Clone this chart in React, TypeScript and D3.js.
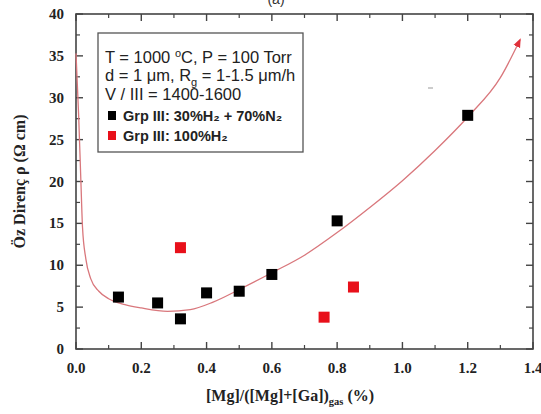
import React from 'react';
import * as d3 from 'd3';

const xTicks = [0, 0.2, 0.4, 0.6, 0.8, 1.0, 1.2, 1.4];
const xMinor = [0.1, 0.3, 0.5, 0.7, 0.9, 1.1, 1.3];
const yTicks = [0, 5, 10, 15, 20, 25, 30, 35, 40];
const yMinor = [2.5, 7.5, 12.5, 17.5, 22.5, 27.5, 32.5, 37.5];

const blackX = [0.13, 0.25, 0.32, 0.40, 0.50, 0.60, 0.80, 1.20];
const blackY = [6.2, 5.5, 3.6, 6.7, 6.9, 8.9, 15.3, 27.9];
const redX = [0.32, 0.76, 0.85];
const redY = [12.1, 3.8, 7.4];

const fitX = [0.0, 0.008, 0.015, 0.02, 0.03, 0.045, 0.07, 0.1, 0.15, 0.2, 0.28, 0.35, 0.42, 0.5, 0.6, 0.7, 0.8, 0.9, 1.0, 1.1, 1.2, 1.3, 1.36];
const fitY = [35.3, 28, 20, 14.5, 10.8, 8.4, 6.9, 6.0, 5.3, 4.9, 4.5, 4.7, 5.6, 7.1, 9.1, 11.2, 13.9, 16.9, 20.1, 23.7, 27.7, 32.4, 36.9];

const legendLines = ['T = 1000 °C, P = 100 Torr', 'd = 1 μm, Rg = 1-1.5 μm/h', 'V / III = 1400-1600'];
const seriesLabels = ['Grp III: 30%H₂ + 70%N₂', 'Grp III: 100%H₂'];
const xTitle = '[Mg]/([Mg]+[Ga])';
const yTitle = 'Öz Direnç ρ (Ω cm)';

export default function App() {
  const W = 541, H = 414;
  const x = d3.scaleLinear().domain([0, 1.4]).range([76, 533]);
  const y = d3.scaleLinear().domain([0, 40]).range([349, 14]);
  const axisColor = '#444';
  const line = d3.line<number>().x((_, i) => x(fitX[i])).y((d) => y(d)).curve(d3.curveMonotoneX);
  const fitPath = line(fitY) || '';
  const serif = '"Liberation Serif", "Times New Roman", serif';
  const sans = '"Liberation Sans", Arial, sans-serif';
  const sq = 11;
  return (
    <div style={{ position: 'absolute', left: 0, top: 0 }}>
      <svg width={W} height={H} style={{ display: 'block', background: '#fff' }}>
        <defs>
          <marker id="arr" viewBox="0 0 10 10" refX="8" refY="5" markerWidth="7" markerHeight="7" orient="auto">
            <path d="M0,1 L10,5 L0,9 Z" fill="#e0303a" />
          </marker>
        </defs>
        <text x={276} y={4} textAnchor="middle" fontFamily={sans} fontSize={14} fill="#333">(a)</text>
        {/* frame */}
        <rect x={x(0)} y={y(40)} width={x(1.4) - x(0)} height={y(0) - y(40)} fill="none" stroke={axisColor} strokeWidth={1.6} />
        {xTicks.map((t) => (
          <g key={'xt' + t}>
            <line x1={x(t)} x2={x(t)} y1={y(0)} y2={y(0) - 7} stroke={axisColor} strokeWidth={1.4} />
            <line x1={x(t)} x2={x(t)} y1={y(40)} y2={y(40) + 7} stroke={axisColor} strokeWidth={1.4} />
            <text x={x(t)} y={373} textAnchor="middle" fontFamily={serif} fontWeight="bold" fontSize={15} fill="#222">{t.toFixed(1)}</text>
          </g>
        ))}
        {xMinor.map((t) => (
          <g key={'xm' + t}>
            <line x1={x(t)} x2={x(t)} y1={y(0)} y2={y(0) - 4} stroke={axisColor} strokeWidth={1.2} />
            <line x1={x(t)} x2={x(t)} y1={y(40)} y2={y(40) + 4} stroke={axisColor} strokeWidth={1.2} />
          </g>
        ))}
        {yTicks.map((t) => (
          <g key={'yt' + t}>
            <line x1={x(0)} x2={x(0) + 7} y1={y(t)} y2={y(t)} stroke={axisColor} strokeWidth={1.4} />
            <line x1={x(1.4)} x2={x(1.4) - 7} y1={y(t)} y2={y(t)} stroke={axisColor} strokeWidth={1.4} />
            <text x={64} y={y(t) + 5} textAnchor="end" fontFamily={serif} fontWeight="bold" fontSize={15} fill="#222">{t}</text>
          </g>
        ))}
        {yMinor.map((t) => (
          <g key={'ym' + t}>
            <line x1={x(0)} x2={x(0) + 4} y1={y(t)} y2={y(t)} stroke={axisColor} strokeWidth={1.2} />
            <line x1={x(1.4)} x2={x(1.4) - 4} y1={y(t)} y2={y(t)} stroke={axisColor} strokeWidth={1.2} />
          </g>
        ))}
        <path d={fitPath} fill="none" stroke="#d9777c" strokeWidth={1.3} markerEnd="url(#arr)" />
        {blackX.map((v, i) => (
          <rect key={'b' + i} x={x(v) - sq / 2} y={y(blackY[i]) - sq / 2} width={sq} height={sq} fill="#000" />
        ))}
        {redX.map((v, i) => (
          <rect key={'r' + i} x={x(v) - sq / 2} y={y(redY[i]) - sq / 2} width={sq} height={sq} fill="#e8101a" />
        ))}
        <line x1={428} x2={433} y1={88} y2={88} stroke="#999" strokeWidth={1} />
        {/* legend */}
        <rect x={98} y={33} width={205} height={119} fill="#fff" stroke="#555" strokeWidth={1.3} />
        <text x={105} y={63} fontFamily={sans} fontSize={16.5} fill="#222">
          T = 1000 <tspan dy={-6} fontSize={11}>o</tspan><tspan dy={6}>C, P = 100 Torr</tspan>
        </text>
        <text x={105} y={81} fontFamily={sans} fontSize={16.5} fill="#222">
          d = 1 μm, R<tspan dy={5} fontSize={11}>g</tspan><tspan dy={-5}> = 1-1.5 μm/h</tspan>
        </text>
        <text x={105} y={100} fontFamily={sans} fontSize={16.5} fill="#222">{legendLines[2]}</text>
        <rect x={108} y={111} width={8} height={9} fill="#000" />
        <text x={123} y={121} fontFamily={sans} fontSize={14.5} fontWeight="bold" fill="#222">{seriesLabels[0]}</text>
        <rect x={108} y={131} width={8} height={9} fill="#e8101a" />
        <text x={123} y={141} fontFamily={sans} fontSize={14.5} fontWeight="bold" fill="#222">{seriesLabels[1]}</text>
        <text x={290} y={401} textAnchor="middle" fontFamily={serif} fontWeight="bold" fontSize={16} fill="#222">
          {xTitle}<tspan dy={4} fontSize={10.5}>gas</tspan><tspan dy={-4}> (%)</tspan>
        </text>
        <text transform={`translate(25,${(y(0) + y(40)) / 2}) rotate(-90)`} textAnchor="middle" fontFamily={serif} fontWeight="bold" fontSize={16} fill="#222">{yTitle}</text>
      </svg>
    </div>
  );
}
